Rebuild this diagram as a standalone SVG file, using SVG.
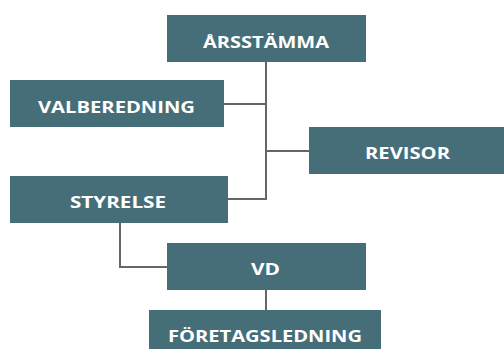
<svg xmlns="http://www.w3.org/2000/svg" width="504" height="349" viewBox="0 0 504 349">
<style>
.box{fill:#466e79}
.lbl{fill:#ffffff;font-family:"Open Sans","Liberation Sans",sans-serif;font-weight:700;font-size:15.5px;text-anchor:middle}
.con{fill:none;stroke:#666666;stroke-width:2}
</style>
<rect width="504" height="349" fill="#ffffff"/>
<g id="connectors">
<path class="con" d="M266 62 V199 H228"/>
<path class="con" d="M224 104 H266"/>
<path class="con" d="M266 151 H309"/>
<path class="con" d="M120 223 V267 H167"/>
<path class="con" d="M266 290 V310"/>
</g>
<g id="arsstamma"><rect class="box" x="167" y="15" width="199" height="47"/><text class="lbl" x="266" y="48" textLength="126" lengthAdjust="spacingAndGlyphs">ÅRSSTÄMMA</text></g>
<g id="valberedning"><rect class="box" x="10" y="80" width="214" height="47"/><text class="lbl" x="116.5" y="113" textLength="157" lengthAdjust="spacingAndGlyphs">VALBEREDNING</text></g>
<g id="revisor"><rect class="box" x="309" y="127" width="195" height="47"/><text class="lbl" x="407.5" y="159" textLength="85" lengthAdjust="spacingAndGlyphs">REVISOR</text></g>
<g id="styrelse"><rect class="box" x="10" y="176" width="218" height="47"/><text class="lbl" x="118" y="208" textLength="96" lengthAdjust="spacingAndGlyphs">STYRELSE</text></g>
<g id="vd"><rect class="box" x="167" y="243" width="199" height="47"/><text class="lbl" x="265.5" y="275" textLength="29" lengthAdjust="spacingAndGlyphs">VD</text></g>
<g id="foretagsledning"><rect class="box" x="149" y="310" width="232" height="47"/><text class="lbl" x="265" y="342" textLength="194" lengthAdjust="spacingAndGlyphs">FÖRETAGSLEDNING</text></g>
</svg>
